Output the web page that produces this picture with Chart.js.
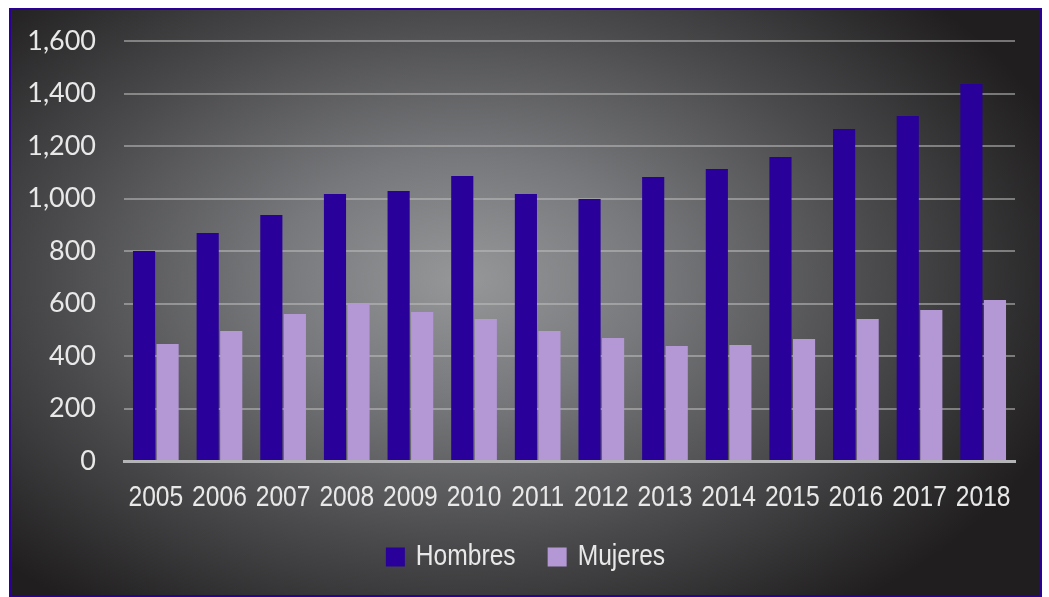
<!DOCTYPE html>
<html>
<head>
<meta charset="utf-8">
<script src="https://cdn.jsdelivr.net/npm/chart.js@4"></script>
<style>
  html, body { margin: 0; padding: 0; background: #fff; }
  #frame {
    position: absolute; left: 9px; top: 8px; width: 1029px; height: 585px;
    border: 2px solid #2a0096;
    background: radial-gradient(ellipse 62% 70% at 44% 46%, #969799 0%, #77787b 30%, #4a4a4c 65%, #201e1f 100%);
  }
  canvas { display: block; }
</style>
</head>
<body>
<div id="frame"><canvas id="chart" width="1029" height="585"></canvas></div>
<script>
// --- data ---
const YEARS = ['2005','2006','2007','2008','2009','2010','2011','2012','2013','2014','2015','2016','2017','2018'];
const HOMBRES = [800, 869, 937, 1017, 1029, 1086, 1017, 998, 1082, 1112, 1158, 1265, 1314, 1436];
const MUJERES = [446, 495, 560, 602, 568, 541, 495, 469, 438, 442, 465, 541, 575, 613];

const TEXT = '#e8e8e8';
const NARROW_FONT = '30px "Liberation Sans", Arial, sans-serif';
const SQUEEZE = 0.82; // no narrow font installed, so squeeze Liberation Sans

function narrowText(ctx, str, x, y, align) {
  ctx.save();
  ctx.translate(x, y);
  ctx.scale(SQUEEZE, 1);
  ctx.textAlign = align;
  ctx.fillText(str, 0, 0);
  ctx.restore();
}

// year labels + legend drawn narrow, like Arial Narrow in the original
const narrowLabels = {
  id: 'narrowLabels',
  afterDraw(chart) {
    const ctx = chart.ctx;
    const xs = chart.scales.x;
    ctx.save();
    ctx.font = NARROW_FONT;
    ctx.fillStyle = TEXT;
    ctx.textBaseline = 'middle';
    xs.ticks.forEach((t, i) => {
      narrowText(ctx, chart.data.labels[i], xs.getPixelForTick(i), chart.chartArea.bottom + 37, 'center');
    });

    // legend
    const box = 19, gapText = 11, gapItem = 32;
    const items = chart.data.datasets.map(d => ({ label: d.label, color: d.backgroundColor, w: ctx.measureText(d.label).width * SQUEEZE }));
    const total = items.reduce((s, it) => s + box + gapText + it.w, 0) + gapItem * (items.length - 1);
    let x = chart.width / 2 - total / 2;
    const y = chart.chartArea.bottom + 96;
    items.forEach(it => {
      ctx.fillStyle = it.color;
      ctx.fillRect(x, y - box / 2, box, box);
      x += box + gapText;
      ctx.fillStyle = TEXT;
      narrowText(ctx, it.label, x, y, 'left');
      x += it.w + gapItem;
    });
    ctx.restore();
  }
};

new Chart(document.getElementById('chart'), {
  type: 'bar',
  data: {
    labels: YEARS,
    datasets: [
      { label: 'Hombres', data: HOMBRES, backgroundColor: '#290099' },
      { label: 'Mujeres', data: MUJERES, backgroundColor: '#b498d6' }
    ]
  },
  options: {
    responsive: false,
    animation: false,
    layout: { padding: { top: 31, right: 25, left: 0, bottom: 134 } },
    datasets: { bar: { categoryPercentage: 0.74, barPercentage: 0.94 } },
    plugins: {
      legend: { display: false },
      tooltip: { enabled: false }
    },
    scales: {
      x: {
        grid: { display: false, drawTicks: false },
        border: { display: true, color: '#b4b4b6', width: 3 },
        ticks: { display: false, autoSkip: false }
      },
      y: {
        min: 0, max: 1600,
        afterFit: s => { s.width = 113; s.paddingTop = 0; s.paddingBottom = 0; },
        grid: { color: 'rgba(190,190,190,0.55)', lineWidth: 2, drawTicks: false },
        border: { display: false },
        ticks: { stepSize: 200, color: TEXT, font: { family: 'Lato, sans-serif', size: 27 }, padding: 28 }
      }
    }
  },
  plugins: [narrowLabels]
});
</script>
</body>
</html>
